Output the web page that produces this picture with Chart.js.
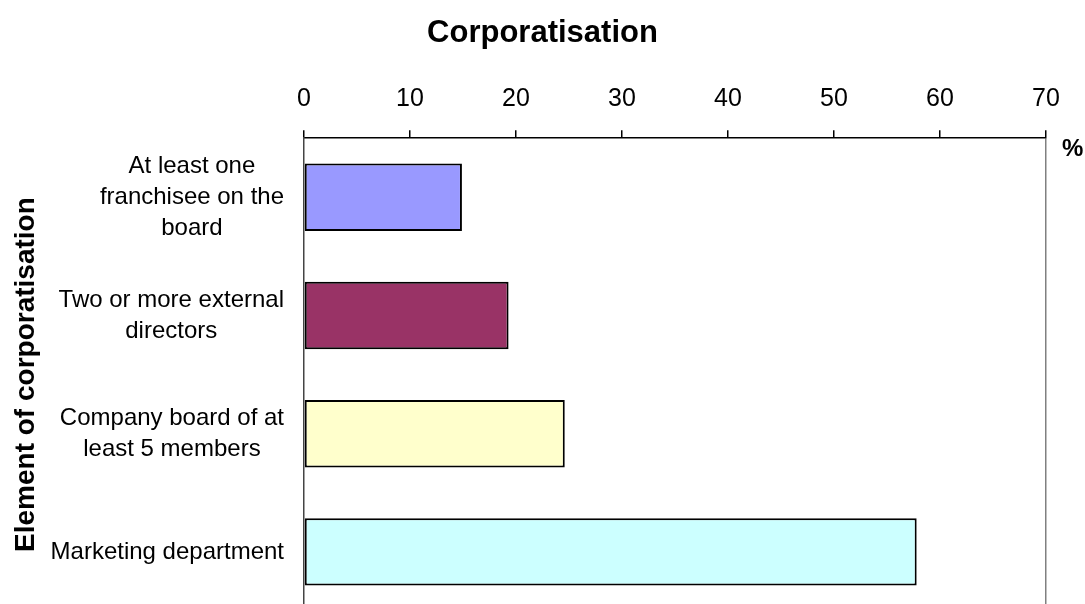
<!DOCTYPE html>
<html>
<head>
<meta charset="utf-8">
<script src="https://cdn.jsdelivr.net/npm/chart.js@4"></script>
<style>
  html, body { margin: 0; padding: 0; background: #fff; overflow: hidden; }
</style>
</head>
<body>
<canvas id="corp" width="1085" height="611"></canvas>
<script>
// categories, each split into the lines it is printed on
const categories = [
    ['At least one', 'franchisee on the', 'board'],
    ['Two or more external', 'directors'],
    ['Company board of at', 'least 5 members'],
    ['Marketing department']
];
const values = [14.9, 19.3, 24.6, 57.8];
const barColors = ['#9999ff', '#993366', '#ffffcc', '#ccffff'];
const tickValues = [0, 10, 20, 30, 40, 50, 60, 70];

const FONT = 'Liberation Sans, Arial, sans-serif';

// category labels: each block is centred on itself, block flush against the axis
const categoryLabels = {
    id: 'categoryLabels',
    afterDraw(chart) {
        const ctx = chart.ctx;
        const yScale = chart.scales.y;
        const right = chart.chartArea.left - 20;
        const lineH = 31;
        ctx.save();
        ctx.font = '24px ' + FONT;
        ctx.fillStyle = '#000';
        ctx.textAlign = 'center';
        ctx.textBaseline = 'middle';
        categories.forEach((lines, i) => {
            const w = Math.max(...lines.map(l => ctx.measureText(l).width));
            const cx = right - w / 2;
            const cy = yScale.getPixelForValue(i);
            lines.forEach((l, j) => {
                ctx.fillText(l, cx, cy + (j - (lines.length - 1) / 2) * lineH);
            });
        });
        // unit marker beside the value axis
        ctx.font = 'bold 24px ' + FONT;
        ctx.textAlign = 'left';
        ctx.fillText('%', chart.chartArea.right + 16, chart.chartArea.top + 11);
        ctx.restore();
    }
};

new Chart(document.getElementById('corp'), {
    type: 'bar',
    data: {
        labels: categories,
        datasets: [{
            label: 'Corporatisation',
            data: values,
            backgroundColor: barColors,
            borderColor: '#000',
            borderWidth: 2,
            borderSkipped: false,
            categoryPercentage: 1,
            barPercentage: 0.57
        }]
    },
    options: {
        indexAxis: 'y',
        responsive: false,
        animation: false,
        layout: { padding: 0 },
        plugins: {
            legend: { display: false },
            tooltip: { enabled: false },
            title: {
                display: true,
                text: 'Corporatisation',
                color: '#000',
                font: { family: FONT, size: 31, weight: 'bold' },
                padding: { top: 15, bottom: 16 }
            }
        },
        scales: {
            x: {
                position: 'top',
                min: 0,
                max: 70,
                afterBuildTicks(scale) {
                    scale.ticks = tickValues.map(v => ({ value: v }));
                },
                // room on the right for the % marker
                afterFit(scale) { scale.paddingRight = 39; },
                ticks: {
                    color: '#000',
                    padding: 16,
                    font: { family: FONT, size: 25 }
                },
                grid: {
                    drawOnChartArea: true,
                    tickLength: 8,
                    tickColor: '#000',
                    color: ctx => (ctx.tick && ctx.tick.value === 70 ? '#808080' : 'rgba(0,0,0,0)'),
                    lineWidth: 1.5
                },
                border: { display: true, color: '#000', width: 1.5 }
            },
            y: {
                afterFit(scale) { scale.width = 304; },
                ticks: { display: false },
                grid: { display: false },
                border: { display: true, color: '#444', width: 1.5 },
                title: {
                    display: true,
                    text: 'Element of corporatisation',
                    color: '#000',
                    font: { family: FONT, size: 28, weight: 'bold' },
                    padding: { top: 9, bottom: 0 }
                }
            }
        }
    },
    plugins: [categoryLabels]
});
</script>
</body>
</html>
